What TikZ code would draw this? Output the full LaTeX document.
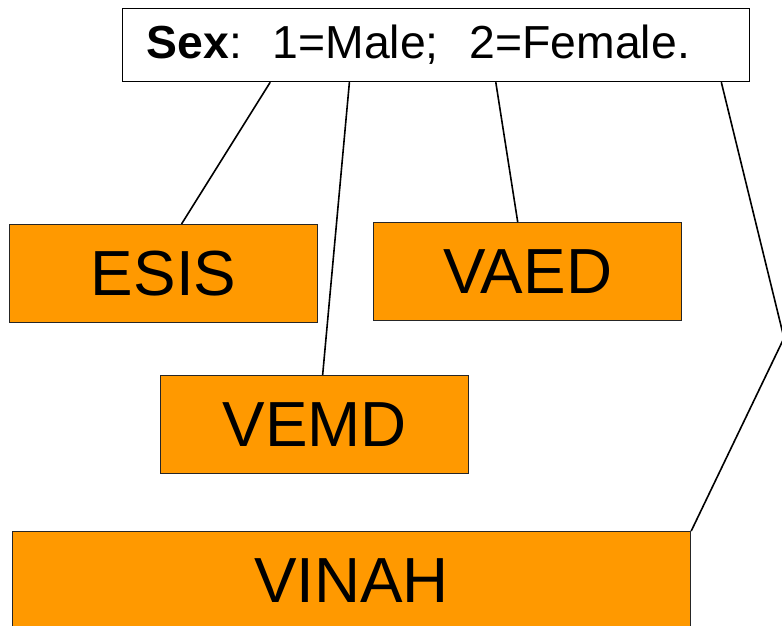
\documentclass[tikz,border=0pt]{standalone}
\usepackage{fontspec}
\setmainfont{Liberation Sans}
\usetikzlibrary{calc,positioning}
\definecolor{boxorange}{RGB}{255,153,0}
\tikzset{
  srcbox/.style={draw=black!85, line width=1.2bp, fill=boxorange, minimum width=308bp,
    minimum height=98bp, inner sep=0pt, anchor=north west, font=\fontsize{64}{70}\selectfont},
  link/.style={line width=1.6bp}
}

\begin{document}
\begin{tikzpicture}[x=1bp,y=-1bp]
            \useasboundingbox (0,0) rectangle (782,626);

            \node[draw, line width=1.2bp, anchor=north west, minimum width=627bp, minimum height=73bp,
                  text width=579bp, inner xsep=24bp, inner ysep=0pt, align=left,
                  font=\fontsize{46.5}{50}\selectfont] (sex) at (122,8) {\textbf{Sex}:~~1=Male;~~2=Female.};

            \node[srcbox] (esis) at (9,224) {ESIS};
            \node[srcbox] (vaed) at (373,222) {VAED};
            \node[srcbox] (vemd) at (160,375) {VEMD};
            \node[srcbox, minimum width=678bp] (vinah) at (12,531) {VINAH};

            \coordinate (bend) at (784,338);

            \draw[link] ($(sex.south west)!0.236!(sex.south east)$) -- ($(esis.north west)!0.558!(esis.north east)$);
            \draw[link] ($(sex.south west)!0.362!(sex.south east)$) -- ($(vemd.north west)!0.526!(vemd.north east)$);
            \draw[link] ($(sex.south west)!0.595!(sex.south east)$) -- ($(vaed.north west)!0.468!(vaed.north east)$);
            \draw[link] ($(sex.south west)!0.954!(sex.south east)$) -- (bend) -- (vinah.north east);
\end{tikzpicture}
\end{document}
